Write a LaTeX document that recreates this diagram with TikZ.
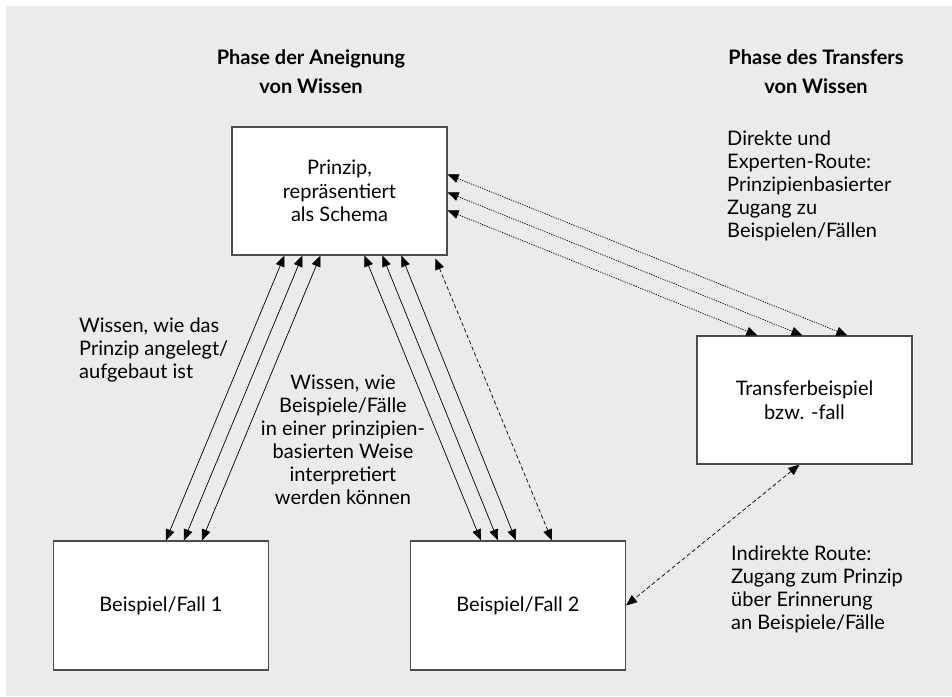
\documentclass[tikz,border=0pt]{standalone}
\usepackage{fontspec}
\setmainfont{Lato}
\usetikzlibrary{arrows.meta,calc}
\begin{document}
\begin{tikzpicture}[x=1pt,y=-1pt,
  box/.style={draw=black!70,line width=1.2pt,fill=white,minimum width=215pt,minimum height=128pt,inner sep=0pt,align=center,font=\fontsize{20}{23.5}\selectfont},
  lbl/.style={inner sep=0pt,font=\fontsize{20}{23}\selectfont},
  head/.style={inner sep=0pt,align=center,font=\fontsize{20}{29}\selectfont\bfseries},
  conn/.style={line width=0.7pt,{Triangle[length=11pt,width=9pt]}-{Triangle[length=11pt,width=9pt]}},
  dsh/.style={conn,dash pattern=on 4pt off 2.5pt},
  dtd/.style={conn,dash pattern=on 1.2pt off 1.2pt}]
\useasboundingbox (0,0) rectangle (952,696);
\fill[white] (0,0) rectangle (952,696);
\fill[black!8] (6,6) rectangle (952,696);
% boxes
\node[box] (top) at (339.5,191) {Prinzip,\\repräsentiert\\als Schema};
\node[box,minimum height=129pt] (b1) at (161,605.5) {Beispiel/Fall 1};
\node[box,minimum height=129pt] (b2) at (518,605.5) {Beispiel/Fall 2};
\node[box] (tr) at (804.5,400) {Transferbeispiel\\bzw. -fall};
% headings
\node[head,anchor=north] (h1) at (311,49) {Phase der Aneignung\\von Wissen};
\node[head,anchor=north] (h2) at (816,49) {Phase des Transfers\\von Wissen};
% labels
\node[lbl,anchor=north west,align=left] (l1) at (79,318) {Wissen, wie das\\Prinzip angelegt/\\aufgebaut ist};
\node[lbl,anchor=north,align=center] (l2) at (343,375) {Wissen, wie\\Beispiele/Fälle\\in einer prinzipien-\\basierten Weise\\interpretiert\\werden können};
\node[lbl,anchor=north west,align=left] (l3) at (727,131) {Direkte und\\Experten-Route:\\Prinzipienbasierter\\Zugang zu\\Beispielen/Fällen};
\node[lbl,anchor=north west,align=left] (l4) at (731,546) {Indirekte Route:\\Zugang zum Prinzip\\über Erinnerung\\an Beispiele/Fälle};
% connectors box1 <-> top
\draw[conn] ($(b1.north west)+(113,0)$) -- ($(top.south west)+(53,0)$);
\draw[conn] ($(b1.north west)+(131,0)$) -- ($(top.south west)+(71,0)$);
\draw[conn] ($(b1.north west)+(149,0)$) -- ($(top.south west)+(89,0)$);
% box2 <-> top
\draw[conn] ($(b2.north west)+(71,0)$) -- ($(top.south west)+(133,0)$);
\draw[conn] ($(b2.north west)+(88,0)$) -- ($(top.south west)+(151,0)$);
\draw[conn] ($(b2.north west)+(106,0)$) -- ($(top.south west)+(170,0)$);
\draw[dsh] ($(b2.north west)+(142,0)$) -- ($(top.south west)+(204,3)$);
% top <-> transfer
\draw[dtd] ($(top.north east)+(0,48)$) -- ($(tr.north west)+(151,0)$);
\draw[dtd] ($(top.north east)+(0,66)$) -- ($(tr.north west)+(106,0)$);
\draw[dtd] ($(top.north east)+(0,84)$) -- ($(tr.north west)+(61,0)$);
% transfer <-> box2
\draw[dsh] ($(tr.south west)+(103,0)$) -- (b2.east);
\end{tikzpicture}
\end{document}
